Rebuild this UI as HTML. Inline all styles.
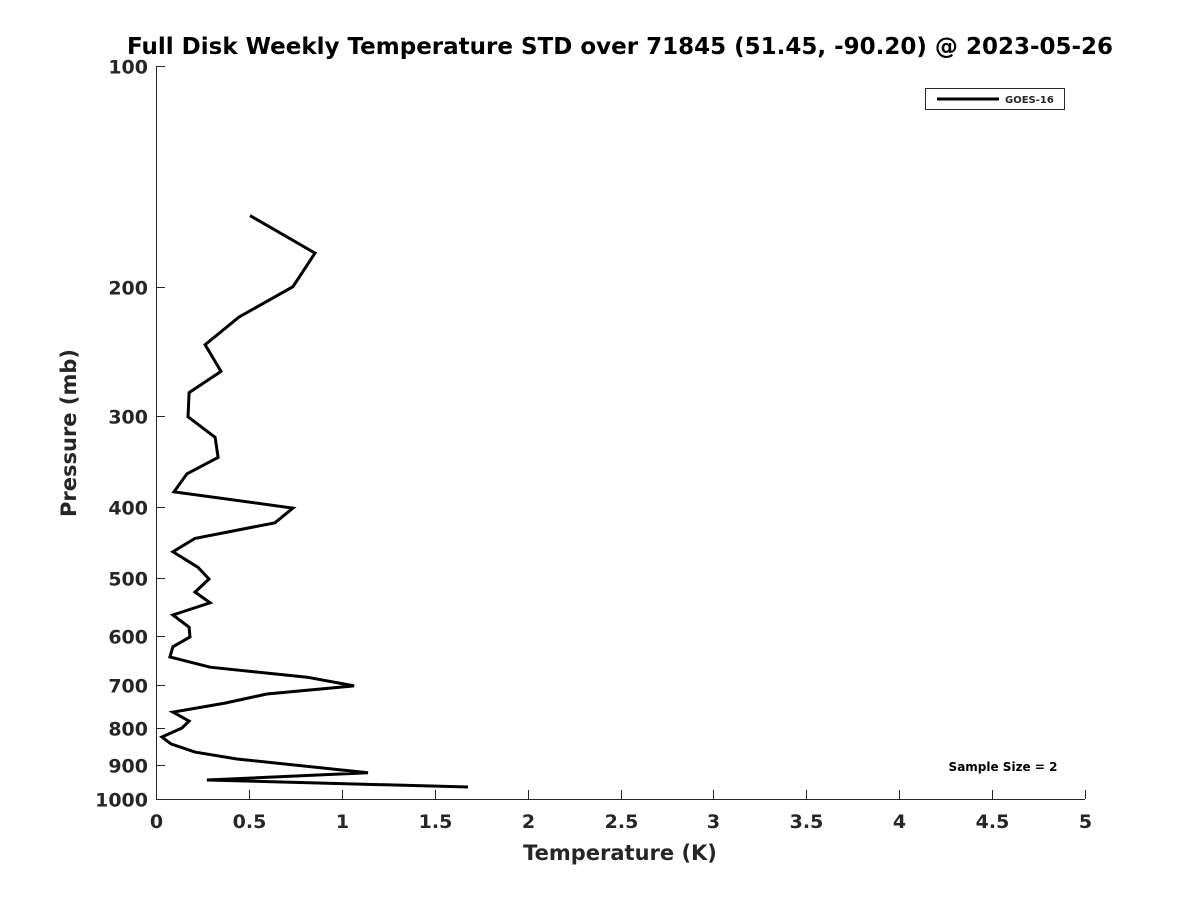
<!DOCTYPE html>
<html><head><meta charset="utf-8"><style>
body{margin:0;background:#fff;}
svg text{font-family:"DejaVu Sans","Liberation Sans",sans-serif;font-weight:bold;fill:#262626;}
</style></head><body>
<svg id="chart" width="1200" height="900">
<rect width="1200" height="900" fill="#fff"/>
<text x="620" y="54" text-anchor="middle" font-size="23" fill="#000" style="fill:#000">Full Disk Weekly Temperature STD over 71845 (51.45, -90.20) @ 2023-05-26</text>
<g id="axes"></g>
<path id="series" fill="none" stroke="#000" stroke-width="3" stroke-linejoin="miter"/>
<g>
<rect x="925.5" y="88.5" width="139" height="21" fill="#fff" stroke="#262626" stroke-width="1"/>
<line x1="937" y1="99" x2="999" y2="99" stroke="#000" stroke-width="3"/>
<text x="1005" y="103" font-size="10">GOES-16</text>
</g>
<text x="1003" y="771" text-anchor="middle" font-size="12" style="fill:#000">Sample Size = 2</text>
<text x="620" y="860" text-anchor="middle" font-size="21">Temperature (K)</text>
<text transform="translate(76,433) rotate(-90)" text-anchor="middle" font-size="21">Pressure (mb)</text>
</svg>
<script>
const temps = [0.506,0.856,0.737,0.447,0.264,0.350,0.178,0.172,0.318,0.334,0.167,0.097,0.737,0.640,0.210,0.091,0.226,0.285,0.210,0.291,0.091,0.178,0.183,0.091,0.075,0.291,0.813,1.066,0.597,0.371,0.091,0.178,0.140,0.032,0.081,0.210,0.436,1.141,0.274,1.679];
const pressures = [160,180,200,220,240,261,279,301,321,342,360,381,401,420,441,460,483,501,522,540,561,583,601,620,640,661,682,701,719,740,761,783,800,823,841,863,882,921,942,963];
const xTicks = [0,0.5,1,1.5,2,2.5,3,3.5,4,4.5,5];
const xTickLabels = ["0","0.5","1","1.5","2","2.5","3","3.5","4","4.5","5"];
const yTicks = [100,200,300,400,500,600,700,800,900,1000];
const yTickLabels = ["100","200","300","400","500","600","700","800","900","1000"];

const L=156,R=1085,T=66,B=799;
function xs(v){return L+(v-0)/(5-0)*(R-L);}
function ys(p){return T+(Math.log10(p)-2)*(B-T);}
const NS="http://www.w3.org/2000/svg";
const ax=document.getElementById('axes');
function mk(tag,attrs){const e=document.createElementNS(NS,tag);for(const k in attrs)e.setAttribute(k,attrs[k]);ax.appendChild(e);return e;}
let e=mk('line',{x1:L,y1:B+0.5,x2:R,y2:B+0.5,stroke:'#262626','stroke-width':1});


e=mk('line',{x1:L+0.5,y1:T,x2:L+0.5,y2:B,stroke:'#262626','stroke-width':1});


xTicks.forEach((v,i)=>{
  const x=Math.round(xs(v))+0.5;
  let t=mk('line',{x1:x,y1:B,x2:x,y2:B-9,stroke:'#262626'});
  
  
  let tx=mk('text',{x:x,y:B+29,'text-anchor':'middle','font-size':19});
  tx.textContent=xTickLabels[i];
  
  
});
yTicks.forEach((p,i)=>{
  const y=Math.round(ys(p))+0.5;
  let t=mk('line',{x1:L,y1:y,x2:L+9,y2:y,stroke:'#262626'});
  
  
  let tx=mk('text',{x:L-8,y:y+7,'text-anchor':'end','font-size':19});
  tx.textContent=yTickLabels[i];
  
  
});
let d='';
temps.forEach((v,i)=>{d+=(i?'L':'M')+xs(v).toFixed(1)+' '+ys(pressures[i]).toFixed(1);});
document.getElementById('series').setAttribute('d',d);
</script>
</body></html>
